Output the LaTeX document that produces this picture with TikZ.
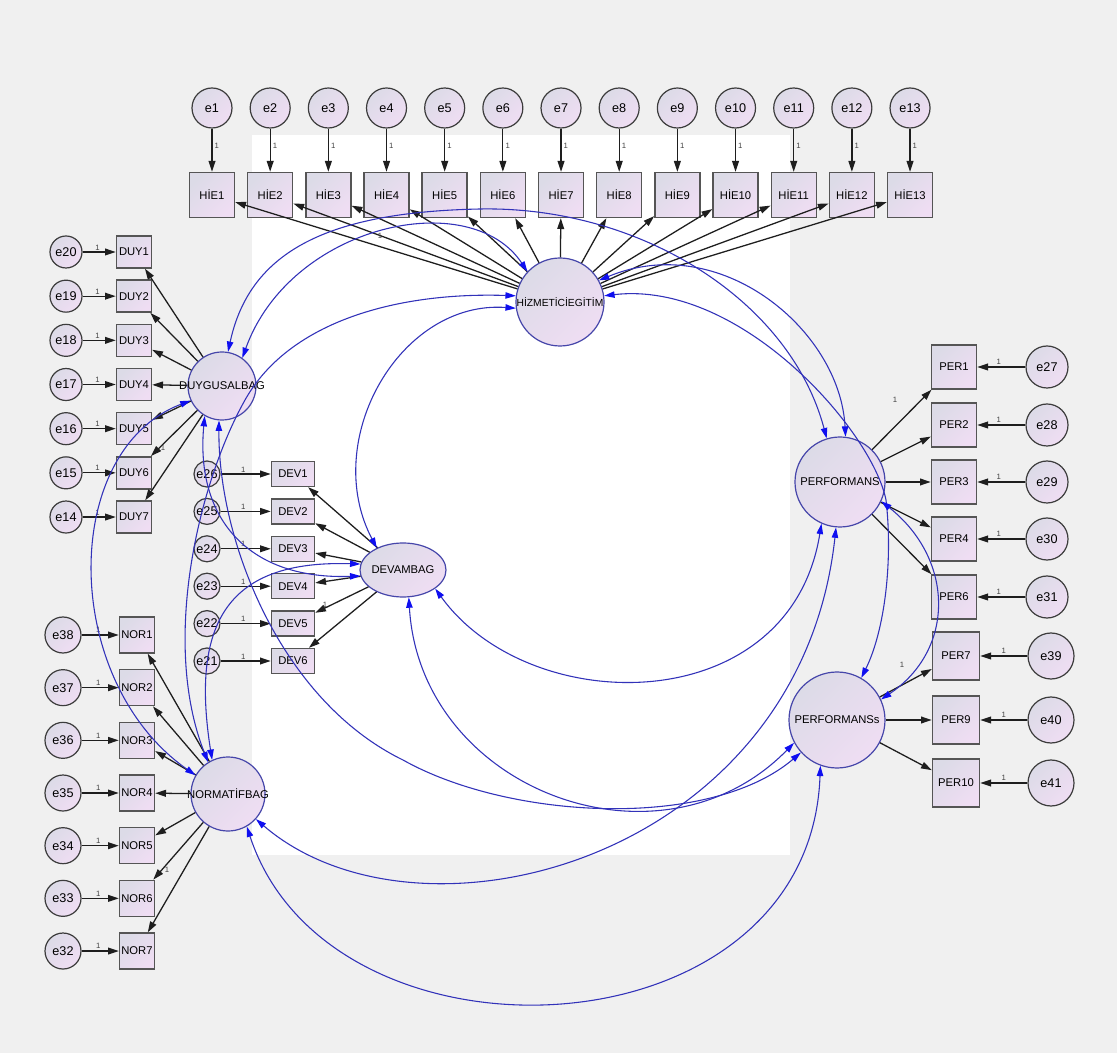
\documentclass[tikz,border=0pt]{standalone}
\usepackage{fontspec}
\setmainfont{Liberation Sans}
\usetikzlibrary{arrows.meta,shapes.geometric}
\definecolor{bggray}{RGB}{240,240,240}
\definecolor{lavA}{RGB}{220,219,231}
\definecolor{lavB}{RGB}{239,221,243}
\definecolor{boxline}{RGB}{85,85,85}
\definecolor{errline}{RGB}{60,60,60}
\definecolor{latline}{RGB}{70,70,170}
\definecolor{covline}{RGB}{50,50,185}
\definecolor{tipblue}{RGB}{15,15,240}
\definecolor{arrcol}{RGB}{30,30,30}
\begin{document}
\begin{tikzpicture}[x=0.25mm,y=-0.25mm,
  shadefill/.style={top color=lavA,bottom color=lavB,shading angle=45},
  obs/.style={rectangle,draw=boxline,line width=0.35mm,inner sep=0pt,shadefill,font=\fontsize{8}{9}\selectfont},
  obsH/.style={obs,minimum width=11.25mm,minimum height=11.25mm},
  obsD/.style={obs,minimum width=8.75mm,minimum height=8mm},
  obsV/.style={obs,minimum width=10.75mm,minimum height=6.25mm},
  obsN/.style={obs,minimum width=8.75mm,minimum height=9mm},
  obsP/.style={obs,minimum width=11.25mm,minimum height=11mm},
  obsQ/.style={obs,minimum width=11.75mm,minimum height=12mm},
  errc/.style={circle,draw=errline,line width=0.3mm,inner sep=0pt,minimum size=#1,shadefill,font=\fontsize{9}{10}\selectfont},
  lat/.style={circle,draw=latline,line width=0.3mm,inner sep=0pt,minimum size=#1,shadefill},
  latlabel/.style={inner sep=0pt,font=\fontsize{8}{9}\selectfont},
  arr/.style={draw=arrcol,line width=0.32mm,-{Triangle[length=2.7mm,width=1.7mm]}},
  cov/.style={draw=covline,line width=0.27mm,{Triangle[length=2.6mm,width=1.6mm,color=tipblue]}-{Triangle[length=2.6mm,width=1.6mm,color=tipblue]}},
  one/.style={inner sep=0.3pt,font=\fontsize{5.5}{6}\selectfont,text=black!75}
]
\fill[bggray] (0,0) rectangle (1117,1053);
\useasboundingbox (0,0) rectangle (1117,1053);
\fill[white] (252,135) rectangle (790,855);

% latent variables
\node[lat=22mm] (hz) at (560,302) {};
\node[latlabel,font=\fontsize{7.3}{9}\selectfont] (hzt) at (hz.center) {HİZMETİCİEGİTİM};
\node[lat=17mm] (duyl) at (222,386) {};
\node[latlabel] (duyt) at (duyl.center) {DUYGUSALBAG};
\node[lat=0mm,ellipse,minimum width=21.5mm,minimum height=13.5mm] (dev) at (403,570) {};
\node[latlabel] (devt) at (dev.center) {DEVAMBAG};
\node[lat=18.5mm] (nor) at (228,794) {};
\node[latlabel] (nort) at (nor.center) {NORMATİFBAG};
\node[lat=22.5mm] (pf) at (840,482) {};
\node[latlabel] (pft) at (pf.center) {PERFORMANS};
\node[lat=24mm] (pfs) at (837,720) {};
\node[latlabel] (pfst) at (pfs.center) {PERFORMANSs};

% top row
\foreach \i in {1,...,13}{
  \pgfmathsetmacro{\xx}{212+58.17*(\i-1)}
  \node[errc=10mm] (e\i) at (\xx,108) {e\i};
  \node[obsH] (hie\i) at (\xx,195) {HİE\i};
  \draw[arr] (e\i) -- (hie\i) node[one,pos=0.4,right=0.4mm] {1};
}
% DUY
\foreach \k in {1,...,7}{
  \pgfmathsetmacro{\yy}{252+44.17*(\k-1)}
  \pgfmathtruncatemacro{\ee}{21-\k}
  \node[errc=8mm] (e\ee) at (66,\yy) {e\ee};
  \node[obsD] (duy\k) at (134,\yy) {DUY\k};
  \draw[arr] (e\ee) -- (duy\k) node[one,pos=0.45,above=0.2mm] {1};
}
% DEV
\foreach \k in {1,...,6}{
  \pgfmathsetmacro{\yy}{474+37.4*(\k-1)}
  \pgfmathtruncatemacro{\ee}{27-\k}
  \node[errc=6.5mm] (e\ee) at (207,\yy) {e\ee};
  \node[obsV] (dev\k) at (293,\yy) {DEV\k};
  \draw[arr] (e\ee) -- (dev\k) node[one,pos=0.45,above=0.2mm] {1};
}
% NOR
\foreach \k in {1,...,7}{
  \pgfmathsetmacro{\yy}{635+52.67*(\k-1)}
  \pgfmathtruncatemacro{\ee}{39-\k}
  \node[errc=9mm] (e\ee) at (63,\yy) {e\ee};
  \node[obsN] (nor\k) at (137,\yy) {NOR\k};
  \draw[arr] (e\ee) -- (nor\k) node[one,pos=0.45,above=0.3mm] {1};
}
% PER
\foreach \k/\ee/\yy in {1/27/367,2/28/425,3/29/482,4/30/539,6/31/597}{
  \node[errc=10.5mm] (e\ee) at (1047,\yy) {e\ee};
  \node[obsP] (per\k) at (954,\yy) {PER\k};
  \draw[arr] (e\ee) -- (per\k) node[one,pos=0.55,above=0.3mm] {1};
}
\foreach \k/\ee/\yy in {7/39/656,9/40/720,10/41/783}{
  \node[errc=11.5mm] (e\ee) at (1051,\yy) {e\ee};
  \node[obsQ] (per\k) at (956,\yy) {PER\k};
  \draw[arr] (e\ee) -- (per\k) node[one,pos=0.5,above=0.3mm] {1};
}

% regression paths
\foreach \i in {1,...,13} \draw[arr] (hz) -- (hie\i);
\foreach \k in {1,...,7} \draw[arr] (duyl) -- (duy\k);
\foreach \k in {1,...,6} \draw[arr] (dev) -- (dev\k);
\foreach \k in {1,...,7} \draw[arr] (nor) -- (nor\k);
\foreach \k in {1,2,3,4,6} \draw[arr] (pf) -- (per\k);
\foreach \k in {7,9,10} \draw[arr] (pfs) -- (per\k);

\node[one] (r1) at (380,236) {1};
\node[one] (r2) at (163,448) {1};
\node[one] (r3) at (325,605) {1};
\node[one] (r4) at (167,870) {1};
\node[one] (r5) at (895,400) {1};
\node[one] (r6) at (902,665) {1};

% covariances
\draw[cov] (duyl.54) .. controls (290,225) and (470,185) .. (hz.137);
\draw[cov] (hz.188) .. controls (400,300) and (320,440) .. (dev.140);
\draw[cov] (hz.172) .. controls (400,292) and (290,320) .. (245,400) .. controls (200,480) and (160,640) .. (nor.122);
\draw[cov] (hz.29) .. controls (720,230) and (840,330) .. (pf.83);
\draw[cov] (hz.8) .. controls (740,280) and (872,430) .. (886,500) .. controls (893,560) and (885,630) .. (pfs.60);
\draw[cov] (duyl.240) .. controls (195,520) and (250,580) .. (dev.188);
\draw[cov] (duyl.205) .. controls (60,450) and (60,680) .. (nor.150);
\draw[cov] (duyl.80) .. controls (250,250) and (330,212) .. (480,209) .. controls (640,206) and (790,300) .. (pf.107);
\draw[cov] (duyl.265) .. controls (218,540) and (280,700) .. (403,760) .. controls (510,820) and (710,830) .. (pfs.222);
\draw[cov] (dev.172) .. controls (230,560) and (190,620) .. (nor.115);
\draw[cov] (dev.330) .. controls (530,720) and (790,720) .. (pf.246);
\draw[cov] (dev.282) .. controls (420,790) and (660,880) .. (pfs.208);
\draw[cov] (nor.318) .. controls (420,960) and (800,860) .. (pf.265);
\draw[cov] (nor.300) .. controls (330,1080) and (810,1060) .. (pfs.250);
\draw[cov] (pf.335) .. controls (955,560) and (955,650) .. (pfs.25);
\end{tikzpicture}
\end{document}
